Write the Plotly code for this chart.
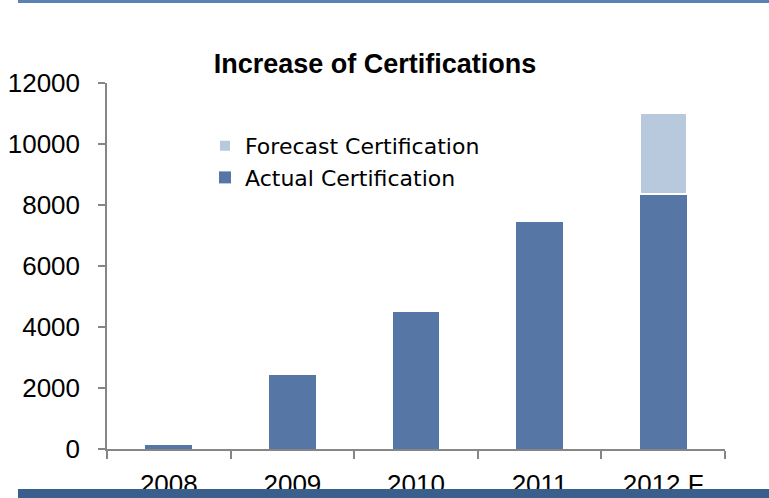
import plotly.graph_objects as go

years = ["2008", "2009", "2010", "2011", "2012 F"]
actual = [130, 2440, 4490, 7450, 8360]
forecast = [None, None, None, None, 2660]
y_ticks = [0, 2000, 4000, 6000, 8000, 10000, 12000]

W, H = 769, 498
L, R, T, B = 107, 44, 83, 49
pw, ph = W - L - R, H - T - B

def px_x(x):
    return (x - L) / pw

def px_y(y):
    return (H - B - y) / ph

fig = go.Figure()
fig.add_trace(go.Bar(x=years, y=actual, name="Actual Certification",
                     marker=dict(color="#5677a6", line=dict(width=0)), width=0.38))
fig.add_trace(go.Bar(x=years, y=forecast, name="Forecast Certification",
                     marker=dict(color="#b9c9dd", line=dict(color="white", width=2)), width=0.38))

fig.update_layout(
    width=W, height=H, barmode="stack",
    margin=dict(l=L, r=R, t=T, b=B),
    paper_bgcolor="white", plot_bgcolor="white",
    font=dict(family="Liberation Sans, Arial, sans-serif", color="#000000"),
    title=dict(text="<b>Increase of Certifications</b>", x=375 / W, xanchor="center",
               y=1 - 64 / H, yanchor="middle",
               font=dict(family="Liberation Sans, Arial, sans-serif", size=27, color="#000000")),
    legend=dict(x=px_x(205), y=px_y(125), xanchor="left", yanchor="top",
                traceorder="reversed",
                font=dict(family="DejaVu Sans, sans-serif", size=22, color="#000000"),
                bgcolor="rgba(0,0,0,0)", itemclick=False),
    xaxis=dict(showline=True, linecolor="#868686", linewidth=1.5, ticks="outside",
               tickson="boundaries", ticklen=8, tickcolor="#868686", tickwidth=1.5,
               tickfont=dict(size=26, color="#000000"), ticklabelstandoff=11,
               showgrid=False, fixedrange=True, automargin=False),
    yaxis=dict(range=[0, 12000], tickvals=y_ticks, tickformat="d", showline=True,
               linecolor="#868686", linewidth=1.5, ticks="outside", ticklen=7,
               tickcolor="#868686", tickwidth=1.5,
               tickfont=dict(size=26, color="#000000"), ticklabelstandoff=13,
               showgrid=False, zeroline=False, fixedrange=True, automargin=False),
    shapes=[
        dict(type="rect", xref="paper", yref="paper", layer="above",
             x0=px_x(18), x1=px_x(W + 5), y0=px_y(-2), y1=px_y(3),
             fillcolor="#5b80b2", line=dict(width=0)),
        dict(type="rect", xref="paper", yref="paper", layer="above",
             x0=px_x(18), x1=px_x(W + 5), y0=px_y(489), y1=px_y(H + 5),
             fillcolor="#3a5f8c", line=dict(width=0)),
    ],
)

fig.write_html("out.html", config={"displayModeBar": False},
               post_script="document.body.style.margin='0px';")
